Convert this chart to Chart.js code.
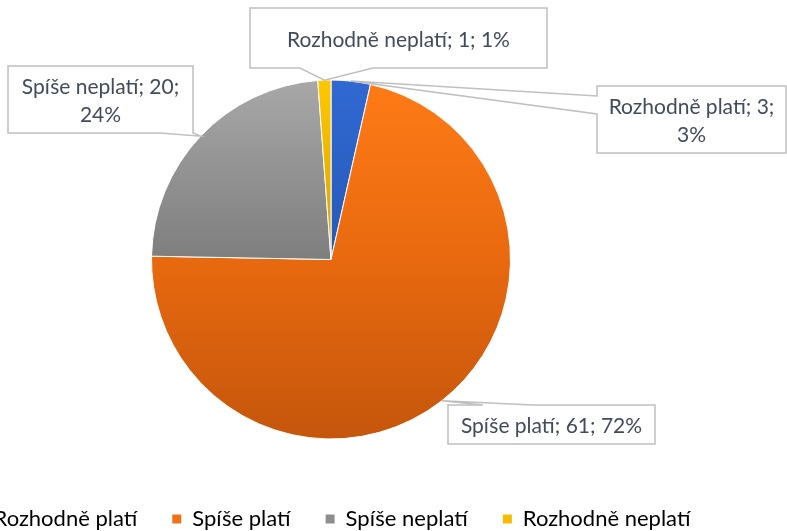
<!DOCTYPE html>
<html><head><meta charset="utf-8">
<script src="https://cdn.jsdelivr.net/npm/chart.js@4/dist/chart.umd.min.js"></script>
<style>html,body{margin:0;padding:0;background:#fff;overflow:hidden;width:787px;height:531px;position:relative}canvas{display:block;position:absolute;left:-100px;top:0}</style>
</head><body>
<canvas id="c" width="987" height="531"></canvas>
<script>
// ---- data ----
const categories = ['Rozhodně platí', 'Spíše platí', 'Spíše neplatí', 'Rozhodně neplatí'];
const counts = [3, 61, 20, 1];
const percents = ['3%', '72%', '24%', '1%'];

// ---- styles ----
const FONT = 'Lato, "Noto Sans", sans-serif';
const FS = 21;
const LFS = 22;
const legendSolid = ['#2F66CF', '#F07216', '#8E8E8E', '#F4BC00'];
const gradStops = [
  [[0, '#3069D3'], [1, '#1C4A9A']],
  [[0, '#FF7B17'], [0.5, '#E8690F'], [1, '#C5560C']],
  [[0, '#A8A8A8'], [0.5, '#7E7E7E'], [1, '#606060']],
  [[0, '#FFC800'], [0.5, '#D9A000'], [1, '#B08000']]
];
// callout boxes, relative to pie centre (px)
const callouts = [
  {box: [266, -173.5, 455, -106.5], wedge: {edge: 'left', a: -163.5, b: -145.5}, wrap: true, baselines: [-145.5, -117.5]},
  {box: [117, 145.5, 324, 184.5], wedge: {edge: 'top', a: 152, b: 202}, wrap: false, baselines: [173.5]},
  {box: [-323, -193.5, -138, -126.5], wedge: {edge: 'bottom', a: -171, b: -138}, wrap: true, baselines: [-165.5, -137.5]},
  {box: [-81, -251.5, 216, -191.5], wedge: {edge: 'bottom', a: -31, b: 42}, wrap: false, baselines: [-212.5]}
];
const LEGEND_TEXT_Y = 519;
const LEGEND_DX = 1;
const LEGEND_PAD = 35;

function sliceColor(c) {
  const i = c.dataIndex;
  const chart = c.chart;
  const area = chart.chartArea;
  if (!area) return legendSolid[i];
  const g = chart.ctx.createLinearGradient(0, area.top, 0, area.bottom);
  gradStops[i].forEach(s => g.addColorStop(s[0], s[1]));
  return g;
}

const calloutPlugin = {
  id: 'callouts',
  afterLayout(chart) {
    const lg = chart.legend;
    const itemH = Math.max(LFS, 9);
    const dy = LEGEND_TEXT_Y - (lg.top + LEGEND_PAD + itemH / 2);
    lg.top += dy; lg.bottom += dy;
    lg.left += LEGEND_DX; lg.right += LEGEND_DX;
  },
  afterDatasetsDraw(chart) {
    const ctx = chart.ctx;
    const meta = chart.getDatasetMeta(0);
    meta.data.forEach((arc, i) => {
      const co = callouts[i];
      const cx = arc.x, cy = arc.y;
      const mid = (arc.startAngle + arc.endAngle) / 2;
      const tx = cx + Math.cos(mid) * arc.outerRadius;
      const ty = cy + Math.sin(mid) * arc.outerRadius;
      const L = cx + co.box[0], T = cy + co.box[1], R = cx + co.box[2], B = cy + co.box[3];
      const w = co.wedge;
      const pts = [[L, T]];
      if (w.edge === 'top') pts.push([cx + w.a, T], [tx, ty], [cx + w.b, T]);
      pts.push([R, T]);
      if (w.edge === 'right') pts.push([R, cy + w.a], [tx, ty], [R, cy + w.b]);
      pts.push([R, B]);
      if (w.edge === 'bottom') pts.push([cx + w.b, B], [tx, ty], [cx + w.a, B]);
      pts.push([L, B]);
      if (w.edge === 'left') pts.push([L, cy + w.b], [tx, ty], [L, cy + w.a]);
      ctx.save();
      ctx.beginPath();
      pts.forEach((p, k) => k ? ctx.lineTo(p[0], p[1]) : ctx.moveTo(p[0], p[1]));
      ctx.closePath();
      ctx.fillStyle = '#FFFFFF';
      ctx.fill();
      ctx.lineWidth = 1.5;
      ctx.strokeStyle = '#BFBFBF';
      ctx.lineJoin = 'miter';
      ctx.stroke();
      const full = categories[i] + '; ' + counts[i] + '; ' + percents[i];
      const lines = co.wrap ? [categories[i] + '; ' + counts[i] + ';', percents[i]] : [full];
      ctx.fillStyle = '#404B5C';
      ctx.font = FS + 'px ' + FONT;
      ctx.textAlign = 'center';
      ctx.textBaseline = 'alphabetic';
      lines.forEach((t, k) => ctx.fillText(t, (L + R) / 2, cy + co.baselines[k]));
      ctx.restore();
    });
  }
};

new Chart(document.getElementById('c'), {
  type: 'pie',
  data: {
    labels: categories,
    datasets: [{
      data: counts,
      backgroundColor: sliceColor,
      borderColor: '#FFFFFF',
      borderWidth: 1
    }]
  },
  options: {
    responsive: false,
    animation: false,
    layout: {padding: {left: 0, right: 125, top: 79.5, bottom: 24.5}},
    plugins: {
      title: {display: false},
      tooltip: {enabled: false},
      legend: {
        display: true,
        position: 'bottom',
        labels: {
          boxWidth: 9,
          boxHeight: 9,
          padding: LEGEND_PAD,
          color: '#44546A',
          font: {family: FONT, size: LFS},
          generateLabels: (chart) => categories.map((c, i) => ({
            text: c, fillStyle: legendSolid[i], strokeStyle: legendSolid[i], lineWidth: 0, index: i, hidden: false
          }))
        }
      }
    }
  },
  plugins: [calloutPlugin]
});
</script>
</body></html>
